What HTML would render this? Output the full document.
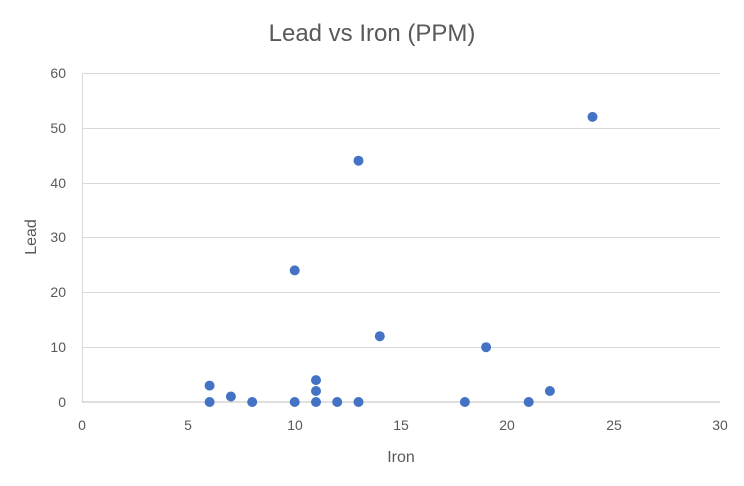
<!DOCTYPE html>
<html><head><style>body{margin:0;background:#fff}svg{display:block}text{font-family:"Liberation Sans",sans-serif;fill:#595959}</style></head><body>
<svg width="744" height="486" viewBox="0 0 744 486">
<rect width="744" height="486" fill="#fff"/>
<text x="372" y="41" text-anchor="middle" font-size="24">Lead vs Iron (PPM)</text>
<g stroke="#d9d9d9" stroke-width="1">
<line x1="82" x2="720" y1="73.5" y2="73.5"/><line x1="82" x2="720" y1="128.5" y2="128.5"/><line x1="82" x2="720" y1="183.5" y2="183.5"/><line x1="82" x2="720" y1="237.5" y2="237.5"/><line x1="82" x2="720" y1="292.5" y2="292.5"/><line x1="82" x2="720" y1="347.5" y2="347.5"/>
<line x1="82.5" x2="82.5" y1="73" y2="402"/>
</g>
<line x1="82" x2="720" y1="402" y2="402" stroke="#bfbfbf"/>
<g font-size="14" text-anchor="end">
<text x="66" y="407">0</text><text x="66" y="352">10</text><text x="66" y="297">20</text><text x="66" y="242">30</text><text x="66" y="188">40</text><text x="66" y="133">50</text><text x="66" y="78">60</text>
</g>
<g font-size="14" text-anchor="middle">
<text x="82" y="430">0</text><text x="188" y="430">5</text><text x="295" y="430">10</text><text x="401" y="430">15</text><text x="507" y="430">20</text><text x="614" y="430">25</text><text x="720" y="430">30</text>
</g>
<text x="401" y="462" text-anchor="middle" font-size="16">Iron</text>
<text transform="translate(36,237) rotate(-90)" text-anchor="middle" font-size="16">Lead</text>
<g fill="#4472c4">
<circle cx="209.6" cy="385.6" r="5"/><circle cx="209.6" cy="402" r="5"/><circle cx="230.9" cy="396.5" r="5"/><circle cx="252.2" cy="402" r="5"/><circle cx="294.7" cy="270.4" r="5"/><circle cx="294.7" cy="402" r="5"/><circle cx="316" cy="380.1" r="5"/><circle cx="316" cy="391" r="5"/><circle cx="316" cy="402" r="5"/><circle cx="337.2" cy="402" r="5"/><circle cx="358.5" cy="160.7" r="5"/><circle cx="358.5" cy="402" r="5"/><circle cx="379.8" cy="336.2" r="5"/><circle cx="464.9" cy="402" r="5"/><circle cx="486.1" cy="347.2" r="5"/><circle cx="528.7" cy="402" r="5"/><circle cx="549.9" cy="391" r="5"/><circle cx="592.5" cy="116.9" r="5"/>
</g>
</svg>
</body></html>
